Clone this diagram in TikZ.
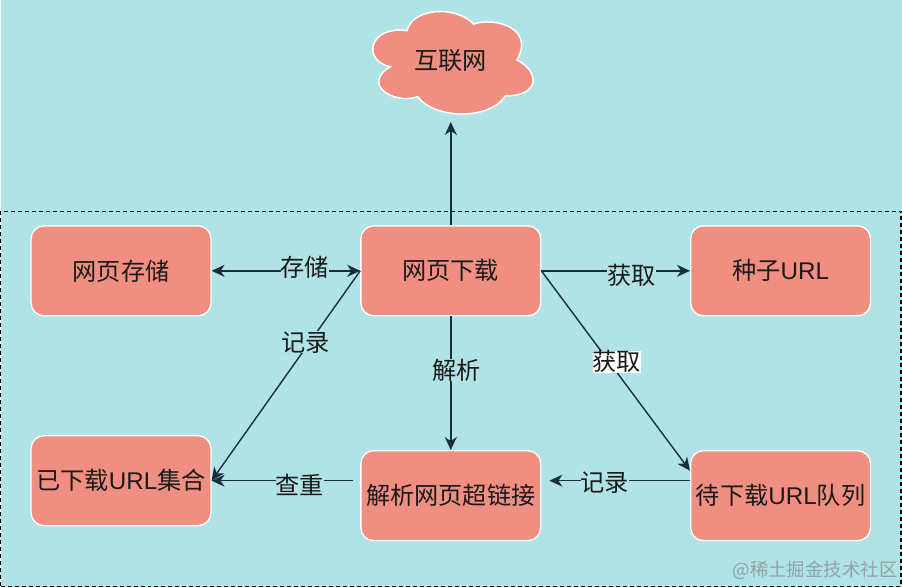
\documentclass[tikz,border=0pt]{standalone}
\usepackage{fontspec}
\setmainfont{Liberation Sans}
\newfontfamily\cjk{Noto Sans CJK SC}
\usetikzlibrary{arrows.meta}
\definecolor{bgcol}{HTML}{B0E3E6}
\definecolor{boxcol}{HTML}{F08E81}
\definecolor{linecol}{HTML}{182E3E}
\definecolor{txtcol}{HTML}{1A1A1A}
\definecolor{markcol}{HTML}{8FA3A8}
\newcommand{\zh}[1]{{\cjk #1}}
\tikzset{
  tip/.tip={Stealth[length=13bp,width=12bp,inset=4bp]},
  page/.style={inner sep=0pt,minimum width=902bp,minimum height=587bp,fill=bgcol},
  frame/.style={draw=black,dash pattern=on 4bp off 3bp,line width=1.2pt,inner sep=0pt,minimum width=901bp,minimum height=375bp},
  box/.style={draw=white,line width=1.3pt,fill=boxcol,rounded corners=13bp,minimum width=180bp,minimum height=90bp,inner sep=0pt,text=txtcol,font=\fontsize{24.3}{28}\selectfont},
  web/.style={draw=white,line width=1.5pt,fill=boxcol},
  link/.style={line width=1.4pt,draw=linecol,-tip},
  tag/.style={fill=bgcol,inner sep=0pt,text=txtcol,font=\fontsize{24.3}{28}\selectfont},
}
\begin{document}
\begin{tikzpicture}

\node (page) at (451bp,-293.5bp)[page] {};
\node (frame) at (450.5bp,-399bp)[frame] {};

\draw [web,x=1bp,y=1bp] (406.7,-30.7) .. controls (412,-8) and (455,-5) .. (473.3,-24)
  .. controls (495,-17) and (535,-28) .. (516.7,-60)
  .. controls (540,-72) and (540,-96) .. (505,-96)
  .. controls (490,-120) and (435,-120) .. (417.3,-96.7)
  .. controls (395,-105) and (360,-85) .. (390,-66.7)
  .. controls (360,-60) and (370,-25) .. (406.7,-30.7) -- cycle;
\node (net) at (450bp,-61bp)[inner sep=0pt,text=txtcol,font=\fontsize{24.3}{28}\selectfont] {\zh{互联网}};
\coordinate (netin) at (450.5bp,-122bp);

\node (save) at (120.5bp,-271bp)[box] {\zh{网页存储}};
\node (down) at (450.5bp,-271bp)[box] {\zh{网页下载}};
\node (seed) at (780.5bp,-271bp)[box] {\zh{种子}URL};
\node (done) at (120.5bp,-481bp)[box] {\zh{已下载}URL\zh{集合}};
\node (parse) at (450.5bp,-496bp)[box] {\zh{解析网页超链接}};
\node (queue) at (780.5bp,-496bp)[box] {\zh{待下载}URL\zh{队列}};

\draw [link] (down.north) to (netin);
\draw [link,tip-tip] (save) to node (tagsave)[tag,pos=.627,yshift=4bp] {\zh{存储}} (down);
\draw [link] (down.east) to node (tagseed)[tag,pos=.607,yshift=-5bp] {\zh{获取}} (seed);
\draw [link] (down.east) to node (tagqueue)[tag,fill=white,pos=.46,xshift=7bp,yshift=1bp] {\zh{获取}} ([yshift=25bp]queue.west);
\draw [link] (down.west) to node (tagdone)[tag,pos=.34,xshift=-4bp] {\zh{记录}} (done.east);
\draw [link] (down) to node (tagparse)[tag,pos=.4,xshift=6bp] {\zh{解析}} (parse);
\draw [link,shorten >=8bp] ([yshift=15bp]queue.west) to node (tagback)[tag,pos=.573,yshift=-2bp] {\zh{记录}} ([yshift=15bp]parse.east);
\draw [link,shorten <=7bp] ([yshift=15bp]parse.west) to node (tagcheck)[tag,pos=.407,yshift=-4bp] {\zh{查重}} (done.east);

\node (mark) at (815bp,-571bp)[inner sep=0pt,text=markcol,font=\fontsize{18.5}{22}\selectfont] {\zh{@稀土掘金技术社区}};
\end{tikzpicture}
\end{document}
